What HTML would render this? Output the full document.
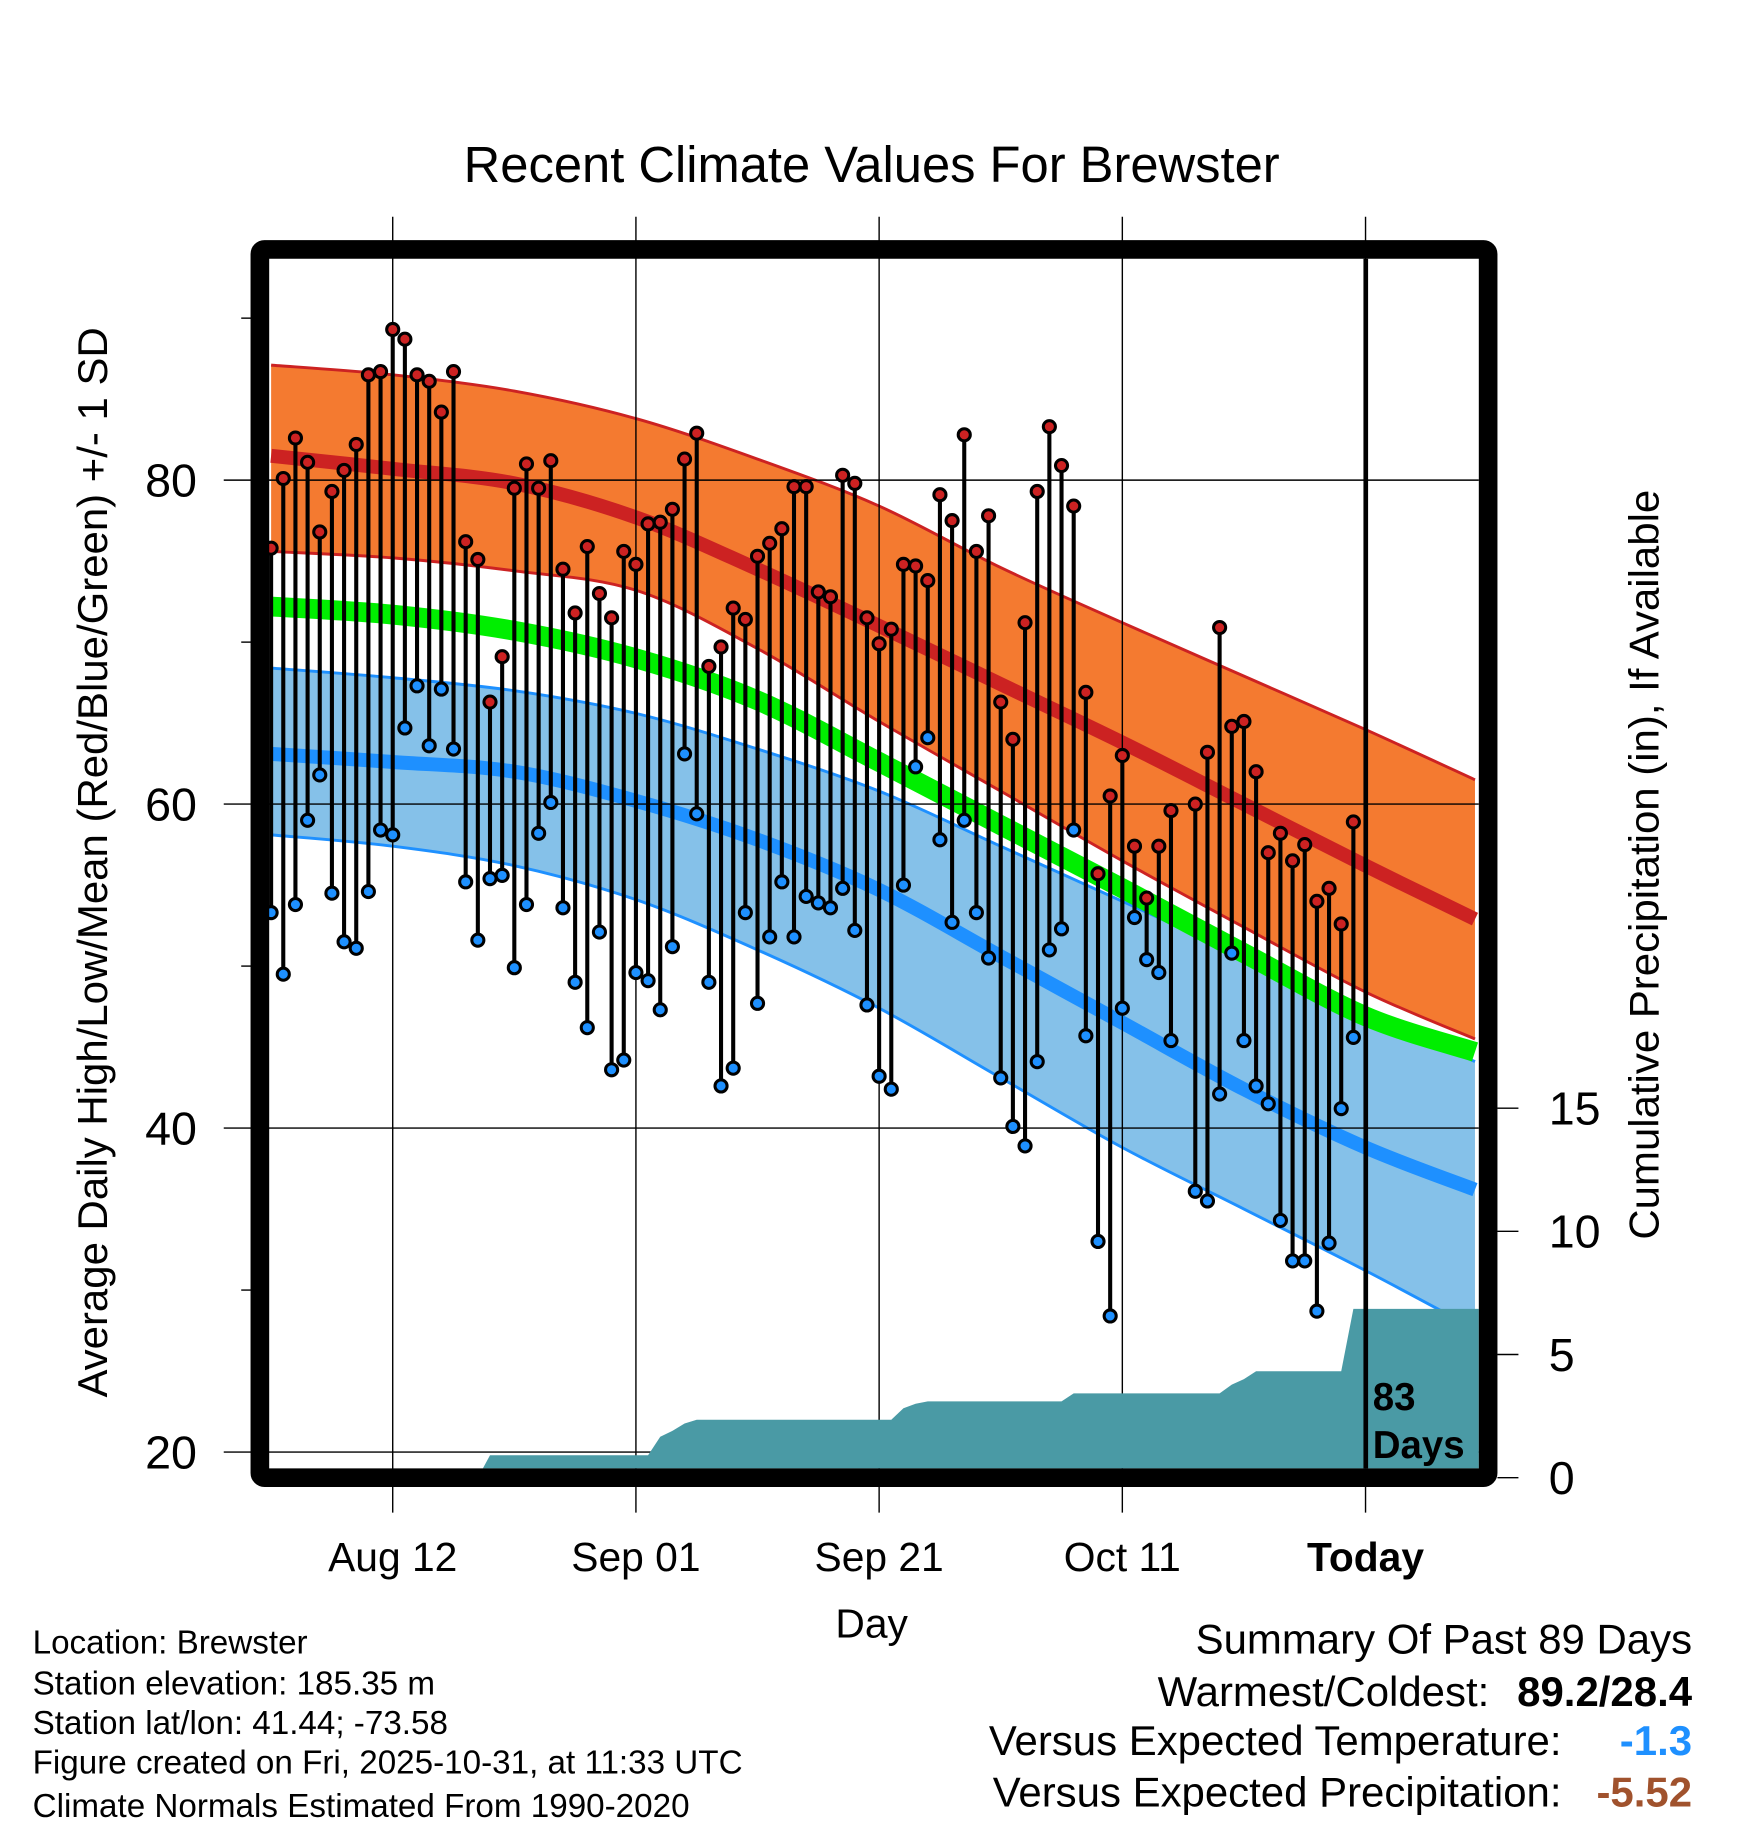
<!DOCTYPE html>
<html><head><meta charset="utf-8"><style>
html,body{margin:0;padding:0;background:#fff}
svg{display:block;font-family:"Liberation Sans",Arial,sans-serif}
</style></head><body>
<svg id="chart" width="1748" height="1828" viewBox="0 0 1500 1568.6" preserveAspectRatio="none" xmlns="http://www.w3.org/2000/svg">
<defs><clipPath id="plotclip"><rect x="231" y="222" width="1038" height="1038"/></clipPath></defs>
<rect width="1500" height="1568.6" fill="#fff"/>
<text x="748" y="156" font-size="43.5" text-anchor="middle">Recent Climate Values For Brewster</text>
<g id="bands" clip-path="url(#plotclip)"></g>
<g id="grid"></g>
<g id="precip" clip-path="url(#plotclip)"></g>
<g id="stems"></g>
<line x1="1172" y1="222" x2="1172" y2="1260" stroke="#000" stroke-width="4"/>
<text font-size="33" font-weight="bold" x="1178" y="1210">83</text>
<text font-size="33" font-weight="bold" x="1178" y="1251">Days</text>
<rect x="223" y="214" width="1054" height="1054" rx="4" fill="none" stroke="#000" stroke-width="16" stroke-linejoin="round"/>
<g id="axes"></g>
<text font-size="36" text-anchor="middle" transform="translate(92,740) rotate(-90)">Average Daily High/Low/Mean (Red/Blue/Green) +/- 1 SD</text>
<text font-size="36" text-anchor="middle" transform="translate(1423,742) rotate(-90)">Cumulative Precipitation (in), If Available</text>
<text x="748" y="1405" font-size="35" text-anchor="middle">Day</text>
<g font-size="28.5">
<text x="28" y="1419">Location: Brewster</text>
<text x="28" y="1454">Station elevation: 185.35 m</text>
<text x="28" y="1488">Station lat/lon: 41.44; -73.58</text>
<text x="28" y="1522">Figure created on Fri, 2025-10-31, at 11:33 UTC</text>
<text x="28" y="1559">Climate Normals Estimated From 1990-2020</text>
</g>
<g font-size="36">
<text x="1452" y="1419" text-anchor="end">Summary Of Past 89 Days</text>
<text x="1278" y="1464" text-anchor="end">Warmest/Coldest:</text>
<text x="1452" y="1464" text-anchor="end" font-weight="bold">89.2/28.4</text>
<text x="1340" y="1506" text-anchor="end">Versus Expected Temperature:</text>
<text x="1452" y="1506" text-anchor="end" font-weight="bold" fill="#1e90ff">-1.3</text>
<text x="1340" y="1550" text-anchor="end">Versus Expected Precipitation:</text>
<text x="1452" y="1550" text-anchor="end" font-weight="bold" fill="#a0522d">-5.52</text>
</g>
</svg>
<script>
const NS="http://www.w3.org/2000/svg";
// ---- data ----
const startDay=-10; // days relative to Aug 12
const highs=[75.8,80.1,82.6,81.1,76.8,79.3,80.6,82.2,86.5,86.7,
89.3,88.7,86.5,86.1,84.2,86.7,76.2,75.1,66.3,69.1,
79.5,81.0,79.5,81.2,74.5,71.8,75.9,73.0,71.5,75.6,
74.8,77.3,77.4,78.2,81.3,82.9,68.5,69.7,72.1,71.4,
75.3,76.1,77.0,79.6,79.6,73.1,72.8,80.3,79.8,71.5,
69.9,70.8,74.8,74.7,73.8,79.1,77.5,82.8,75.6,77.8,
66.3,64.0,71.2,79.3,83.3,80.9,78.4,66.9,55.7,60.5,
63.0,57.4,54.2,57.4,59.6,null,60.0,63.2,70.9,64.8,
65.1,62.0,57.0,58.2,56.5,57.5,54.0,54.8,52.6,58.9];
const lows=[53.3,49.5,53.8,59.0,61.8,54.5,51.5,51.1,54.6,58.4,
58.1,64.7,67.3,63.6,67.1,63.4,55.2,51.6,55.4,55.6,
49.9,53.8,58.2,60.1,53.6,49.0,46.2,52.1,43.6,44.2,
49.6,49.1,47.3,51.2,63.1,59.4,49.0,42.6,43.7,53.3,
47.7,51.8,55.2,51.8,54.3,53.9,53.6,54.8,52.2,47.6,
43.2,42.4,55.0,62.3,64.1,57.8,52.7,59.0,53.3,50.5,
43.1,40.1,38.9,44.1,51.0,52.3,58.4,45.7,33.0,28.4,
47.4,53.0,50.4,49.6,45.4,null,36.1,35.5,42.1,50.8,
45.4,42.6,41.5,34.3,31.8,31.8,28.7,32.9,41.2,45.6];
const precip=[0,0,0,0,0,0,0,0,0,0,
0,0,0,0,0,0,0,0,0.91,0.91,
0.91,0.91,0.91,0.91,0.91,0.91,0.91,0.91,0.91,0.91,
0.91,0.91,1.66,1.9,2.2,2.35,2.35,2.35,2.35,2.35,
2.35,2.35,2.35,2.35,2.35,2.35,2.35,2.35,2.35,2.35,
2.35,2.35,2.82,3.0,3.1,3.1,3.1,3.1,3.1,3.1,
3.1,3.1,3.1,3.1,3.1,3.1,3.42,3.42,3.42,3.42,
3.42,3.42,3.42,3.42,3.42,3.42,3.42,3.42,3.42,3.78,
4.0,4.32,4.32,4.32,4.32,4.32,4.32,4.32,4.32,6.85];
const normDays=[-10,0,10,20,30,40,50,60,70,80,89];
const highUpper=[87.1,86.5,85.5,83.8,81.3,78.4,74.6,71.2,67.9,64.6,61.5];
const highMean=[81.5,80.7,79.8,77.7,74.5,71.0,67.4,63.8,60.0,56.2,52.9];
const highLower=[75.6,75.2,74.4,73.2,69.6,65.1,60.8,56.5,52.4,48.4,45.5];
const meanNorm=[72.2,71.7,70.7,69.0,66.4,62.6,58.7,54.8,50.8,46.9,44.7];
const lowUpper=[68.4,67.8,67.0,65.6,63.4,60.8,57.4,54.0,50.6,47.3,44.1];
const lowMean=[63.1,62.6,62.0,60.2,57.8,54.7,50.6,46.5,42.4,38.8,36.2];
const lowLower=[58.1,57.4,56.2,54.1,51.0,47.4,43.1,38.8,35.0,31.2,27.6];
const xTickDays=[0,20,40,60,80];
const xTickLabels=["Aug 12","Sep 01","Sep 21","Oct 11","Today"];
const yTicks=[20,40,60,80];
const yMinor=[30,50,70,90];
const pTicks=[0,5,10,15];
// ---- scales ----
const X=d=>337+d*10.435;
const Y=t=>412+(80-t)*13.9;
const P=p=>1268-p*21.14;
function el(tag,attrs,parent){const e=document.createElementNS(NS,tag);for(const k in attrs)e.setAttribute(k,attrs[k]);parent.appendChild(e);return e;}
function pts(arr){return normDays.map((d,i)=>[X(d),Y(arr[i])]);}
function smooth(p){let s="";for(let i=0;i<p.length-1;i++){const p0=p[i-1]||p[i],p1=p[i],p2=p[i+1],p3=p[i+2]||p2;
const c1=[p1[0]+(p2[0]-p0[0])/6,p1[1]+(p2[1]-p0[1])/6],c2=[p2[0]-(p3[0]-p1[0])/6,p2[1]-(p3[1]-p1[1])/6];
s+=(i?"":"M"+p1[0]+","+p1[1])+"C"+c1+" "+c2+" "+p2;}return s;}
function bandPath(up,lo){const a=pts(up),b=pts(lo).reverse();const sb=smooth(b);return smooth(a)+"L"+b[0]+sb.slice(sb.indexOf("C"))+"Z";}
const bands=document.getElementById("bands");
let e;
e=el("path",{d:bandPath(highUpper,highLower),fill:"#f47a30"},bands);


e=el("path",{d:smooth(pts(highUpper)),fill:"none",stroke:"#cc2222","stroke-width":2.5},bands);


e=el("path",{d:smooth(pts(highLower)),fill:"none",stroke:"#cc2222","stroke-width":2.5},bands);


e=el("path",{d:bandPath(lowUpper,lowLower),fill:"#85c1e9"},bands);


e=el("path",{d:smooth(pts(lowUpper)),fill:"none",stroke:"#1e90ff","stroke-width":2.5},bands);


e=el("path",{d:smooth(pts(lowLower)),fill:"none",stroke:"#1e90ff","stroke-width":2.5},bands);


e=el("path",{d:smooth(pts(meanNorm)),fill:"none",stroke:"#00ee00","stroke-width":17},bands);


e=el("path",{d:smooth(pts(highMean)),fill:"none",stroke:"#cc2222","stroke-width":12},bands);


e=el("path",{d:smooth(pts(lowMean)),fill:"none",stroke:"#1e90ff","stroke-width":12},bands);


// grid
const grid=document.getElementById("grid");
xTickDays.forEach(d=>{e=el("line",{x1:X(d),x2:X(d),y1:186,y2:1298,stroke:"#000","stroke-width":1.2},grid);

});
yTicks.forEach(t=>{e=el("line",{x1:192,x2:1269,y1:Y(t),y2:Y(t),stroke:"#000","stroke-width":1.2},grid);

});
// precip
const pg=document.getElementById("precip");
let d="M"+X(startDay)+","+P(0);
precip.forEach((v,i)=>{d+="L"+X(startDay+i)+","+P(v);});
d+="L1270,"+P(precip[precip.length-1])+"L1270,"+P(0)+"Z";
e=el("path",{d:d,fill:"#4a9aa5"},pg);


// stems
const sg=document.getElementById("stems");
highs.forEach((h,i)=>{const l=lows[i];if(h==null||l==null)return;const x=X(startDay+i);
e=el("line",{x1:x,x2:x,y1:Y(h),y2:Y(l),stroke:"#000","stroke-width":3.5},sg);

});
highs.forEach((h,i)=>{const l=lows[i];if(h==null||l==null)return;const x=X(startDay+i);
e=el("circle",{cx:x,cy:Y(h),r:5.2,fill:"#cc2222",stroke:"#000","stroke-width":2.6},sg);


e=el("circle",{cx:x,cy:Y(l),r:5.2,fill:"#1e90ff",stroke:"#000","stroke-width":2.6},sg);

});
// axes labels
const ax=document.getElementById("axes");
xTickDays.forEach((dd,i)=>{e=el("text",{x:X(dd),y:1348,"font-size":35,"text-anchor":"middle","font-weight":i==4?"bold":"normal"},ax);e.textContent=xTickLabels[i];

});
yTicks.forEach(t=>{e=el("text",{x:169,y:Y(t)+14,"font-size":40,"text-anchor":"end"},ax);e.textContent=t;

});
yMinor.forEach(t=>{e=el("line",{x1:207,x2:217,y1:Y(t),y2:Y(t),stroke:"#000","stroke-width":1.2},ax);

});
pTicks.forEach(p=>{e=el("line",{x1:1285,x2:1303,y1:P(p),y2:P(p),stroke:"#000","stroke-width":1.2},ax);


e=el("text",{x:1329,y:P(p)+14,"font-size":40},ax);e.textContent=p;

});
</script>
</body></html>
